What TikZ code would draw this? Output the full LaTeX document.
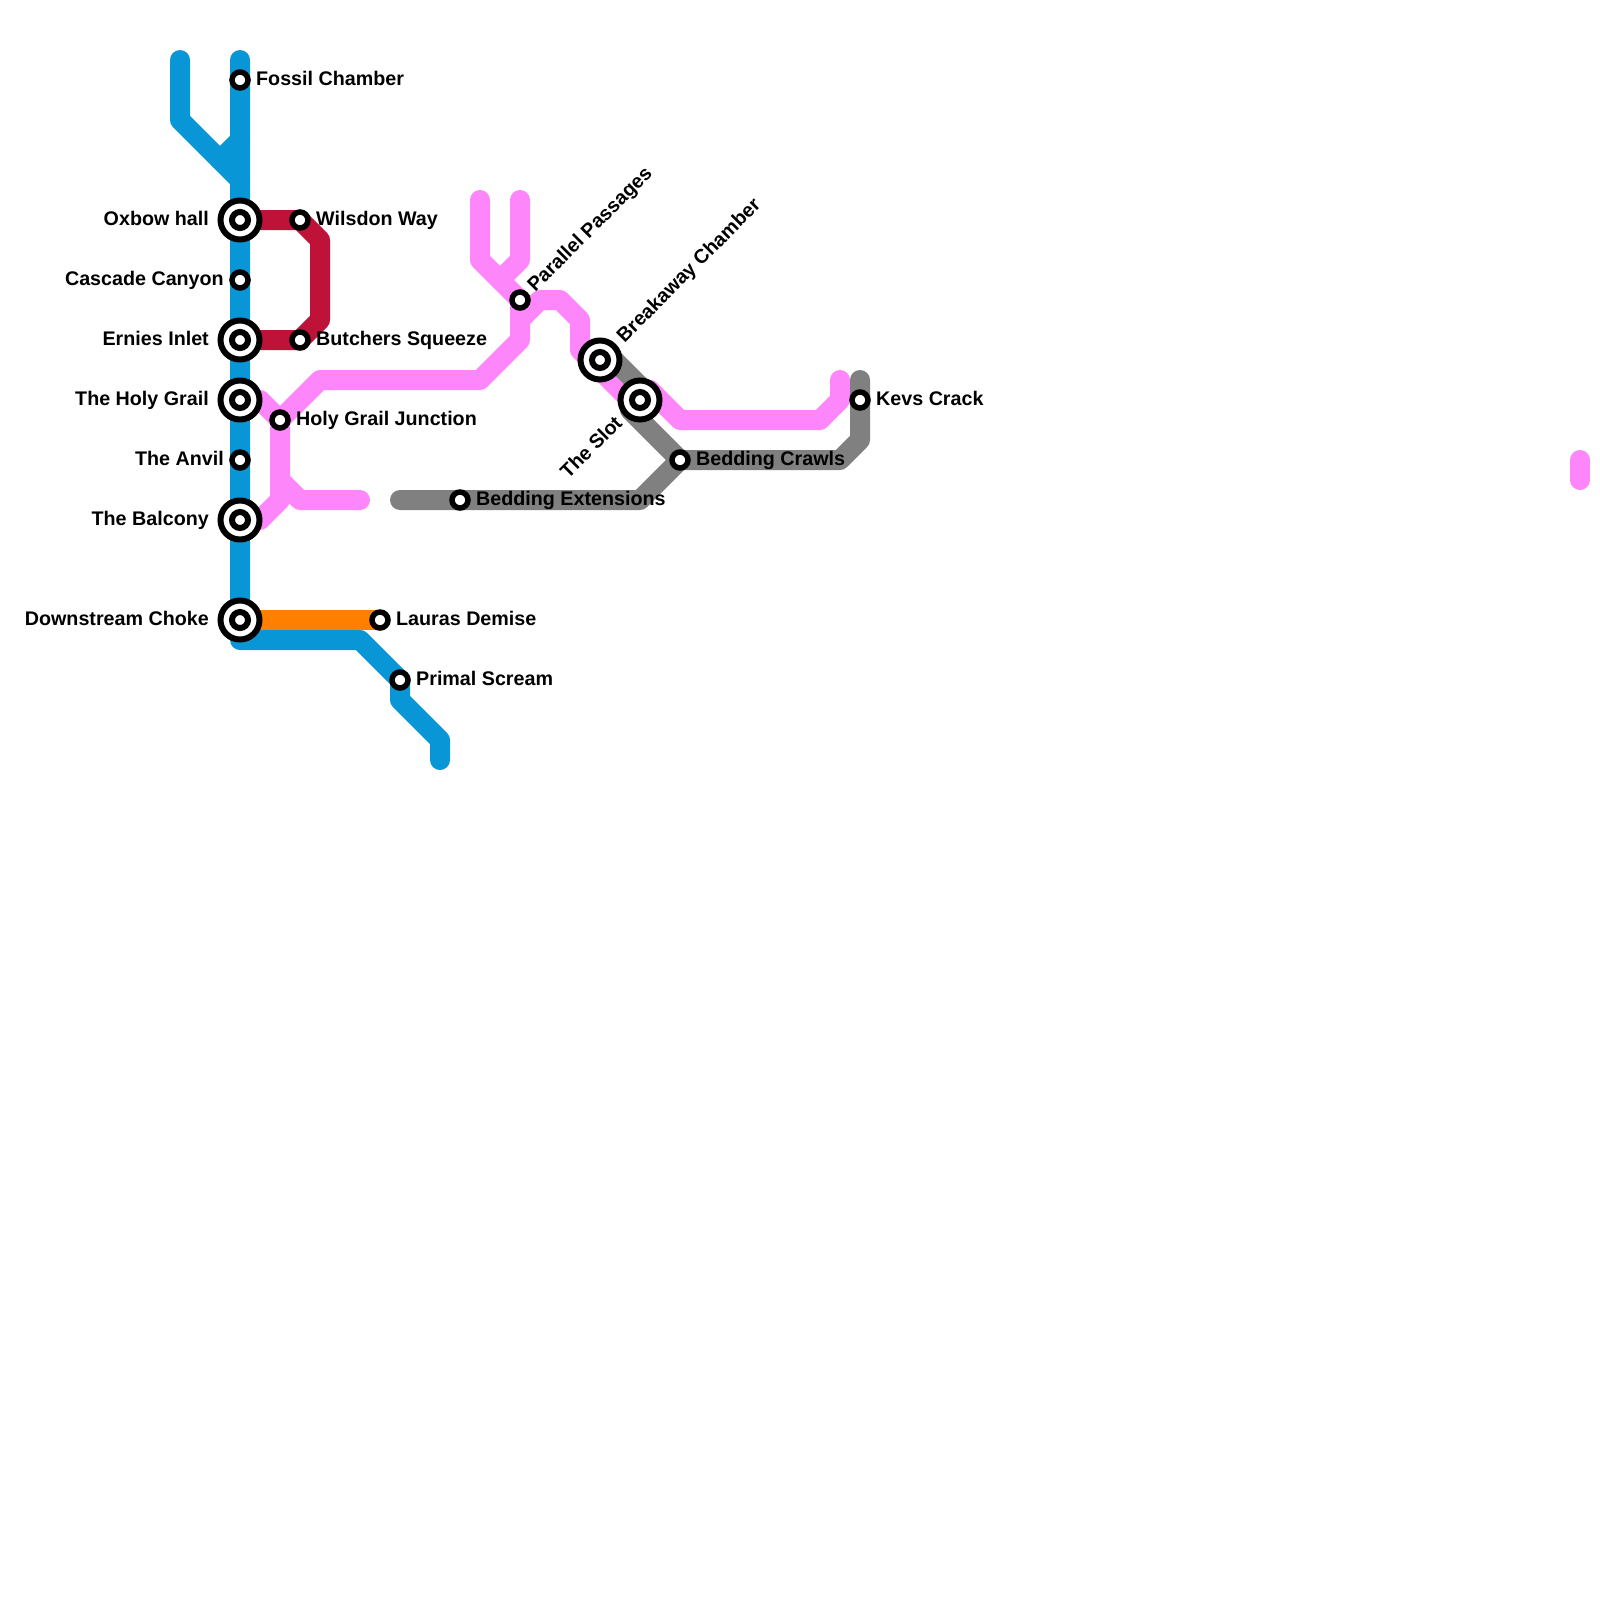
\documentclass[tikz,border=0pt]{standalone}
\usepackage{fontspec}
\setmainfont{Liberation Sans}
\usetikzlibrary{calc}
\definecolor{mblue}{RGB}{9,150,215}
\definecolor{mred}{RGB}{190,18,56}
\definecolor{mpink}{RGB}{253,134,251}
\definecolor{morange}{RGB}{255,128,0}
\definecolor{mgrey}{RGB}{128,128,128}
\tikzset{
  mline/.style={line width=20pt, line cap=round, line join=round},
  blueline/.style={mline, draw=mblue},
  redline/.style={mline, draw=mred},
  pinkline/.style={mline, draw=mpink},
  orangeline/.style={mline, draw=morange},
  greyline/.style={mline, draw=mgrey},
  smallst/.style={circle, draw=black, fill=white, line width=5.5pt, minimum size=16pt, inner sep=0pt},
  interout/.style={circle, draw=black, fill=white, line width=6pt, minimum size=39pt, inner sep=0pt},
  interin/.style={circle, draw=black, fill=white, line width=6pt, minimum size=16pt, inner sep=0pt},
  lbl/.style={font=\fontsize{19.7}{24}\selectfont\bfseries, inner sep=0pt, text=black},
  lblR/.style={lbl, anchor=base west},
  lblL/.style={lbl, anchor=base east},
}
\begin{document}
\begin{tikzpicture}[x=1pt,y=-1pt]
\useasboundingbox (0,0) rectangle (1600,1600);
% stations
\coordinate (fossil) at (240,80);
\coordinate (oxbow) at (240,220);
\coordinate (cascade) at (240,280);
\coordinate (ernies) at (240,340);
\coordinate (holygrail) at (240,400);
\coordinate (anvil) at (240,460);
\coordinate (balcony) at (240,520);
\coordinate (downstream) at (240,620);
\coordinate (wilsdon) at (300,220);
\coordinate (butchers) at (300,340);
\coordinate (hgj) at (280,420);
\coordinate (lauras) at (380,620);
\coordinate (primal) at (400,680);
\coordinate (pp) at (520,300);
\coordinate (breakaway) at (600,360);
\coordinate (slot) at (640,400);
\coordinate (crawls) at (680,460);
\coordinate (extensions) at (460,500);
\coordinate (kevs) at (860,400);
% corner points
\coordinate (bTop) at (240,60);
\coordinate (bC1) at (240,640);
\coordinate (bC2) at (360,640);
\coordinate (bC3) at (400,700);
\coordinate (bC4) at (440,740);
\coordinate (bEnd) at (440,760);
\coordinate (bL0) at (180,60);
\coordinate (bL1) at (180,120);
\coordinate (bL2) at (240,180);
\coordinate (bN1) at (220,160);
\coordinate (bN2) at (240,140);
\coordinate (rC1) at (320,240);
\coordinate (rC2) at (320,320);
\coordinate (pH0) at (260,400);
\coordinate (pC1) at (320,380);
\coordinate (pC2) at (480,380);
\coordinate (pC3) at (520,340);
\coordinate (pB0) at (260,520);
\coordinate (pB1) at (280,500);
\coordinate (pJ0) at (280,480);
\coordinate (pJ1) at (300,500);
\coordinate (pJ2) at (360,500);
\coordinate (pT0) at (480,200);
\coordinate (pT1) at (480,260);
\coordinate (pU0) at (520,200);
\coordinate (pU1) at (520,260);
\coordinate (pU2) at (500,280);
\coordinate (pV0) at (520,320);
\coordinate (pV1) at (540,300);
\coordinate (pV2) at (560,300);
\coordinate (pV3) at (580,320);
\coordinate (pV4) at (580,350);
\coordinate (pV5) at (630,400);
\coordinate (pV6) at (650,390);
\coordinate (pV7) at (680,420);
\coordinate (pV8) at (820,420);
\coordinate (pV9) at (840,400);
\coordinate (pV10) at (840,380);
\coordinate (gA0) at (607,353);
\coordinate (gA1) at (647,393);
\coordinate (gA2) at (630,410);
\coordinate (gC1) at (840,460);
\coordinate (gC2) at (860,440);
\coordinate (gEnd) at (860,380);
\coordinate (gD1) at (640,500);
\coordinate (gD2) at (400,500);
\coordinate (pX0) at (1580,460);
\coordinate (pX1) at (1580,480);
% pink lines
\draw[pinkline] (holygrail) -- (pH0) -- (hgj) -- (pC1) -- (pC2) -- (pC3) -- (pp);
\draw[pinkline] (balcony) -- (pB0) -- (pB1) -- (hgj);
\draw[pinkline] (pJ0) -- (pJ1) -- (pJ2);
\draw[pinkline] (pT0) -- (pT1) -- (pp);
\draw[pinkline] (pU0) -- (pU1) -- (pU2);
\draw[pinkline] (pV0) -- (pV1) -- (pV2) -- (pV3) -- (pV4) -- (pV5) -- (pV6) -- (pV7) -- (pV8) -- (pV9) -- (pV10);
\draw[pinkline] (pX0) -- (pX1);
% grey lines
\draw[greyline] (gA0) -- (gA1) -- (gA2) -- (crawls) -- (gC1) -- (gC2) -- (kevs) -- (gEnd);
\draw[greyline] (crawls) -- (gD1) -- (extensions) -- (gD2);
% blue lines
\draw[blueline] (bTop) -- (fossil) -- (oxbow) -- (cascade) -- (ernies) -- (holygrail) -- (anvil) -- (balcony) -- (downstream) -- (bC1) -- (bC2) -- (primal) -- (bC3) -- (bC4) -- (bEnd);
\draw[blueline] (bL0) -- (bL1) -- (bL2);
\draw[blueline] (bN1) -- (bN2);
% red line
\draw[redline] (oxbow) -- (wilsdon) -- (rC1) -- (rC2) -- (butchers) -- (ernies);
% orange line
\draw[orangeline] (downstream) -- (lauras);
% station markers
\node[smallst] (fossilS) at (fossil) {};
\node[interout] (oxbowS) at (oxbow) {};
\node[interin] (oxbowI) at (oxbow) {};
\node[smallst] (cascadeS) at (cascade) {};
\node[interout] (erniesS) at (ernies) {};
\node[interin] (erniesI) at (ernies) {};
\node[interout] (holygrailS) at (holygrail) {};
\node[interin] (holygrailI) at (holygrail) {};
\node[smallst] (anvilS) at (anvil) {};
\node[interout] (balconyS) at (balcony) {};
\node[interin] (balconyI) at (balcony) {};
\node[interout] (downstreamS) at (downstream) {};
\node[interin] (downstreamI) at (downstream) {};
\node[smallst] (wilsdonS) at (wilsdon) {};
\node[smallst] (butchersS) at (butchers) {};
\node[smallst] (hgjS) at (hgj) {};
\node[smallst] (laurasS) at (lauras) {};
\node[smallst] (primalS) at (primal) {};
\node[smallst] (ppS) at (pp) {};
\node[interout] (breakawayS) at (breakaway) {};
\node[interin] (breakawayI) at (breakaway) {};
\node[interout] (slotS) at (slot) {};
\node[interin] (slotI) at (slot) {};
\node[smallst] (crawlsS) at (crawls) {};
\node[smallst] (extensionsS) at (extensions) {};
\node[smallst] (kevsS) at (kevs) {};
% labels
\node[lblR] (fossilT) at ($(fossil)+(16,5.5)$) {Fossil Chamber};
\node[lblL] (oxbowT) at ($(oxbow)+(-31,5.5)$) {Oxbow hall};
\node[lblL] (cascadeT) at ($(cascade)+(-16,5.5)$) {Cascade Canyon};
\node[lblL] (erniesT) at ($(ernies)+(-31,5.5)$) {Ernies Inlet};
\node[lblL] (holygrailT) at ($(holygrail)+(-31,5.5)$) {The Holy Grail};
\node[lblL] (anvilT) at ($(anvil)+(-16,5.5)$) {The Anvil};
\node[lblL] (balconyT) at ($(balcony)+(-31,5.5)$) {The Balcony};
\node[lblL] (downstreamT) at ($(downstream)+(-31,5.5)$) {Downstream Choke};
\node[lblR] (wilsdonT) at ($(wilsdon)+(16,5.5)$) {Wilsdon Way};
\node[lblR] (butchersT) at ($(butchers)+(16,5.5)$) {Butchers Squeeze};
\node[lblR] (hgjT) at ($(hgj)+(16,5.5)$) {Holy Grail Junction};
\node[lblR] (laurasT) at ($(lauras)+(16,5.5)$) {Lauras Demise};
\node[lblR] (primalT) at ($(primal)+(16,5.5)$) {Primal Scream};
\node[lblR] (crawlsT) at ($(crawls)+(16,5.5)$) {Bedding Crawls};
\node[lblR] (extensionsT) at ($(extensions)+(16,5.5)$) {Bedding Extensions};
\node[lblR] (kevsT) at ($(kevs)+(16,5.5)$) {Kevs Crack};
\node[lblR, rotate=45] (ppT) at ($(pp)+(15.2,-7.4)$) {Parallel Passages};
\node[lblR, rotate=45] (breakawayT) at ($(breakaway)+(24.4,-16.6)$) {Breakaway Chamber};
\node[lblL, rotate=45] (slotT) at ($(slot)+(-16.6,24.4)$) {The Slot};
\end{tikzpicture}
\end{document}
